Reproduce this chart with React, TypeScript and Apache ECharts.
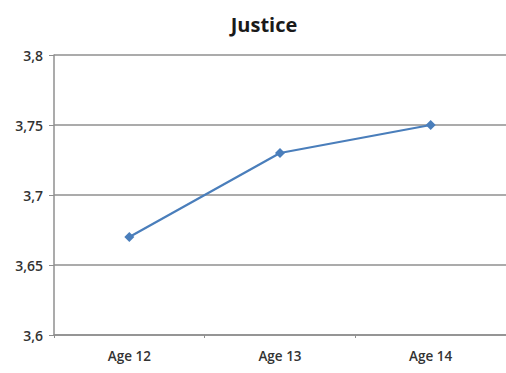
import React, { useEffect, useRef } from "react";
import * as echarts from "echarts";

const categories = ["Age 12", "Age 13", "Age 14"];
const justiceValues = [3.67, 3.73, 3.75];
const yMin = 3.6;
const yMax = 3.8;
const yStep = 0.05;

export default function App() {
  const ref = useRef<HTMLDivElement>(null);

  useEffect(() => {
    if (!ref.current) return;
    const chart = echarts.init(ref.current, null, { renderer: "svg" });
    const font = "'Open Sans', 'Liberation Sans', sans-serif";
    chart.setOption({
      animation: false,
      backgroundColor: "#ffffff",
      title: {
        text: "Justice",
        left: 259,
        top: 9,
        textAlign: "center",
        textStyle: { fontFamily: font, fontSize: 20, fontWeight: "bold", color: "#1a1a1a" },
      },
      grid: { left: 54, right: -5.5, top: 55, bottom: 38 },
      xAxis: {
        type: "category",
        data: categories,
        boundaryGap: true,
        axisLine: { show: true, lineStyle: { color: "#8f8f8f", width: 1.5 } },
        axisTick: { show: true, length: 3, lineStyle: { color: "#8f8f8f" } },
        axisLabel: { margin: 14, fontFamily: font, fontSize: 13.5, fontWeight: 600, color: "#333333" },
      },
      yAxis: {
        type: "value",
        min: yMin,
        max: yMax,
        interval: yStep,
        axisLine: { show: true, lineStyle: { color: "#8f8f8f", width: 1.5 } },
        axisTick: { show: true, length: 5, lineStyle: { color: "#8f8f8f" } },
        splitLine: { show: true, lineStyle: { color: "#8f8f8f", width: 1.5 } },
        axisLabel: {
          margin: 11,
          fontFamily: font,
          fontSize: 14,
          fontWeight: 600,
          color: "#333333",
          formatter: (v: number) => String(Math.round(v * 100) / 100).replace(".", ","),
        },
      },
      series: [
        {
          type: "line",
          data: justiceValues,
          symbol: "diamond",
          symbolSize: 10,
          lineStyle: { color: "#4a7ebb", width: 2.2 },
          itemStyle: { color: "#4a7ebb" },
        },
      ],
    });
    return () => chart.dispose();
  }, []);

  return (
    <div
      ref={ref}
      style={{ position: "fixed", left: 0, top: 0, width: 506, height: 373 }}
    />
  );
}
